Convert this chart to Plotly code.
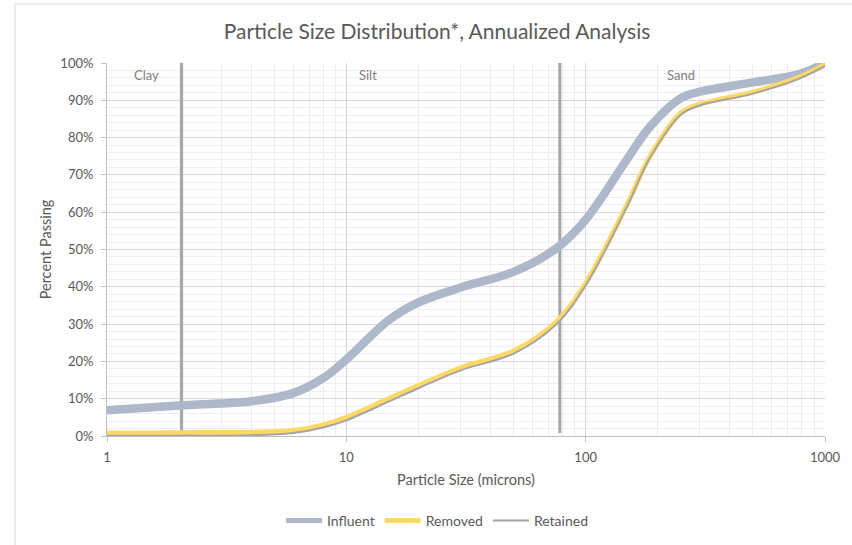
import math
import plotly.graph_objects as go

# ---- data ----
sizes = [1, 2, 4, 6, 8, 10, 15, 20, 30, 50, 75, 100, 150, 185, 250, 300, 500, 780, 1000]
influent = [6.9, 8.2, 9.3, 11.5, 15.5, 20.5, 31, 35.8, 39.8, 44, 50.2, 58, 74.5, 82.8, 90.6, 92.3, 94.8, 97, 100]
removed = [0.8, 0.9, 1.0, 1.5, 3, 5, 10, 13.5, 18.3, 22.8, 30.5, 41, 62.5, 74.8, 86.6, 89, 92.2, 96.2, 99.6]
retained = [0.1, 0.1, 0.2, 0.8, 2.3, 4.2, 9.2, 12.8, 17.6, 22.1, 29.8, 40.4, 62, 74.4, 86.2, 88.6, 91.8, 95.8, 99.2]

boundaries = [2.05, 78]          # clay/silt, silt/sand boundaries (microns)
region_names = ["Clay", "Silt", "Sand"]
region_label_x = [1.46, 12.3, 250]  # microns

series_names = ["Influent", "Removed", "Retained"]
series_colors = ["#adb9ca", "#ffd966", "#a5a5a5"]
series_widths = [8.5, 5, 2]
legend_widths = [5, 5, 2]

fig = go.Figure()

# boundary lines
for b in boundaries:
    fig.add_trace(go.Scatter(x=[b, b], y=[0.8, 100], mode="lines",
                             line=dict(color="#a6a6a6", width=3),
                             showlegend=False, hoverinfo="skip"))

for name, ys, col, w in zip(series_names, [influent, removed, retained],
                            series_colors, series_widths):
    fig.add_trace(go.Scatter(x=sizes, y=ys, mode="lines", name=name,
                             line=dict(color=col, width=w, shape="spline"),
                             showlegend=False))

# legend entries (thinner sample lines, as in the original)
for name, col, w in zip(series_names, series_colors, legend_widths):
    fig.add_trace(go.Scatter(x=[None], y=[None], mode="lines", name=name,
                             line=dict(color=col, width=w)))

for name, xv in zip(region_names, region_label_x):
    fig.add_annotation(x=math.log10(xv), y=96.8, text=name, showarrow=False,
                       font=dict(size=13, color="#808080"))

fig.add_shape(type="rect", xref="paper", yref="paper",
              x0=(15 - 107) / 718, x1=1.3, y0=-0.4, y1=(436 - 4) / 373,
              line=dict(color="#d9d9d9", width=1), layer="below")

font_family = "Lato, 'Open Sans', sans-serif"
fig.update_layout(
    width=852, height=545,
    margin=dict(l=107, r=27, t=63, b=109, autoexpand=False),
    paper_bgcolor="white", plot_bgcolor="white",
    font=dict(family=font_family, color="#595959", size=12),
    title=dict(text="Particle Size Distribution*, Annualized Analysis",
               x=437 / 852, xanchor="center", y=1 - 32 / 545, yanchor="middle",
               font=dict(size=21, color="#595959")),
    legend=dict(orientation="h", x=(437 - 107) / 718, xanchor="center",
                y=(436 - 521) / 373, yanchor="middle",
                font=dict(size=14, color="#595959"), itemwidth=36),
    showlegend=True,
)

fig.update_xaxes(type="log", range=[0, 3], automargin=False,
                 tickvals=[1, 10, 100, 1000], ticktext=["1", "10", "100", "1000"],
                 showgrid=True, gridcolor="#d9d9d9", gridwidth=1,
                 minor=dict(showgrid=True, gridcolor="#ececec", dtick="D1", ticks=""),
                 showline=True, linecolor="#bfbfbf", ticks="outside", ticklen=5,
                 tickcolor="#bfbfbf", zeroline=False, ticklabelstandoff=4,
                 tickfont=dict(size=13, color="#595959"),
                 title=dict(text="Particle Size (microns)", standoff=11,
                            font=dict(size=14.5, color="#595959")))
fig.update_yaxes(range=[0, 100], dtick=10, ticksuffix="%", automargin=False,
                 showgrid=True, gridcolor="#d9d9d9", gridwidth=1,
                 minor=dict(showgrid=True, gridcolor="#efefef", dtick=2, ticks=""),
                 showline=True, linecolor="#bfbfbf", ticks="outside", ticklen=5,
                 tickcolor="#bfbfbf", zeroline=False, ticklabelstandoff=5,
                 tickfont=dict(size=13, color="#595959"),
                 title=dict(text="Percent Passing", standoff=5,
                            font=dict(size=14.5, color="#595959")))

fig.write_html("out.html", config={"displayModeBar": False},
               post_script="document.body.style.margin='0';")
